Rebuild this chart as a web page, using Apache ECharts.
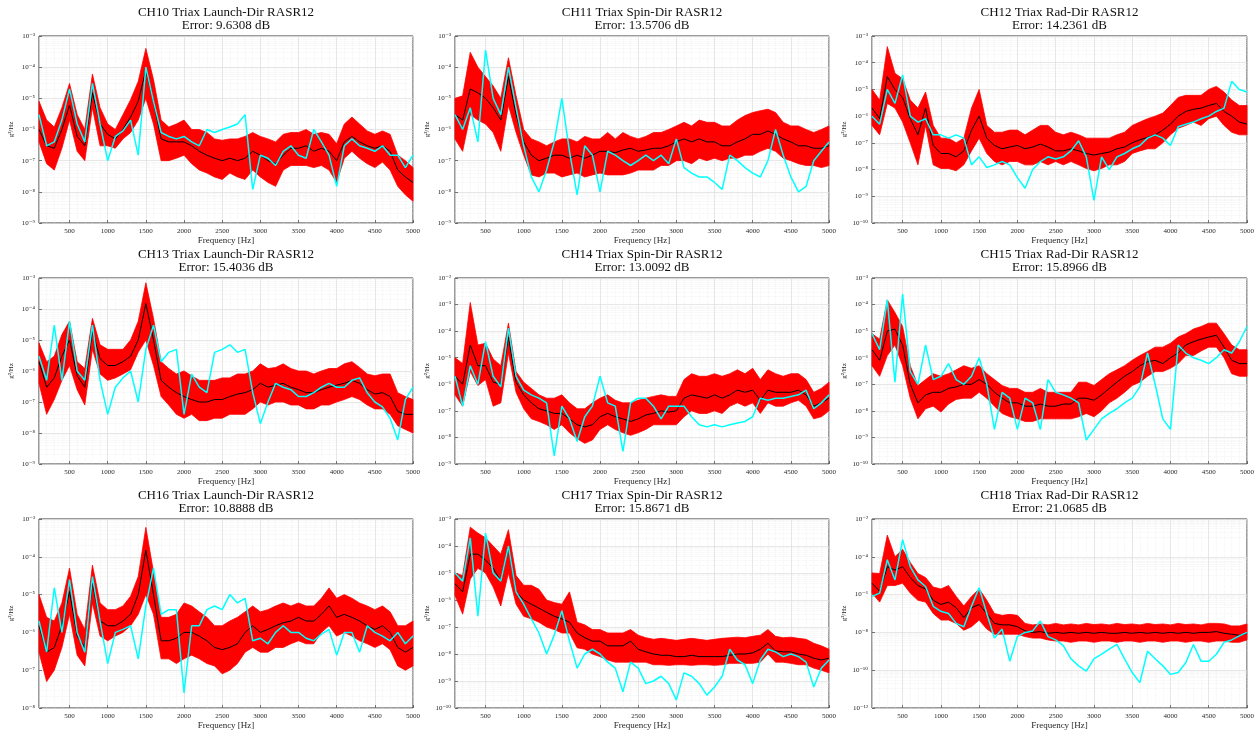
<!DOCTYPE html>
<html>
<head>
<meta charset="utf-8">
<script src="https://cdn.jsdelivr.net/npm/echarts@6/dist/echarts.min.js"></script>
<style>
  html, body { margin: 0; background: #fff; }
  #chart { width: 1258px; height: 738px; }
</style>
</head>
<body>
<div id="chart"></div>
<script>
// frequency grid [Hz]
const freq = [100, 200, 300, 400, 500, 600, 700, 800, 900, 1000,
  1100, 1200, 1300, 1400, 1500, 1600, 1700, 1800, 1900, 2000,
  2100, 2200, 2300, 2400, 2500, 2600, 2700, 2800, 2900, 3000,
  3100, 3200, 3300, 3400, 3500, 3600, 3700, 3800, 3900, 4000,
  4100, 4200, 4300, 4400, 4500, 4600, 4700, 4800, 4900, 5000]

// PSD values g^2/Hz : red band upper / lower, black mean, cyan model
const ch10Hi = [8e-6, 2e-6, 1.2e-6, 5e-6, 3e-5, 3e-6, 1e-6, 6e-5, 5e-6, 1.5e-6,
  1e-6, 3e-6, 9e-6, 3.5e-5, 4e-4, 4e-5, 2e-6, 1.2e-6, 1.5e-6, 2e-6,
  1e-6, 1e-6, 8e-7, 5e-7, 4.5e-7, 5e-7, 5e-7, 6e-7, 8e-7, 6e-7,
  5e-7, 4e-7, 7e-7, 8e-7, 8e-7, 1e-6, 7e-7, 8e-7, 7e-7, 3.5e-7,
  1.5e-6, 2.5e-6, 1.5e-6, 9e-7, 7e-7, 9e-7, 7e-7, 1.5e-7, 1e-7, 6e-8]
const ch10Lo = [4e-7, 8e-8, 5e-8, 2.5e-7, 2e-6, 2e-7, 1e-7, 5e-6, 3e-7, 3e-7,
  2.5e-7, 5e-7, 8e-7, 2e-6, 1e-5, 1.5e-6, 1e-7, 1e-7, 1.2e-7, 1.5e-7,
  8e-8, 5e-8, 4e-8, 3e-8, 2.5e-8, 4e-8, 3e-8, 2.5e-8, 5e-8, 3e-8,
  2e-8, 1.5e-8, 5e-8, 7e-8, 7e-8, 7e-8, 6e-8, 7e-8, 5e-8, 2e-8,
  1.2e-7, 2e-7, 1.2e-7, 8e-8, 6e-8, 9e-8, 5e-8, 1.5e-8, 8e-9, 5e-9]
const ch10Mean = [1e-6, 3e-7, 2.5e-7, 1e-6, 6e-6, 6e-7, 3e-7, 1.5e-5, 1.5e-6, 7e-7,
  5e-7, 1e-6, 2.5e-6, 8e-6, 8e-5, 8e-6, 5e-7, 4e-7, 4e-7, 4e-7,
  3e-7, 2e-7, 1.5e-7, 1.2e-7, 1e-7, 1.2e-7, 1e-7, 1.2e-7, 2e-7, 1.5e-7,
  1e-7, 8e-8, 1.5e-7, 2.5e-7, 2.5e-7, 3e-7, 2e-7, 2.5e-7, 2e-7, 1e-7,
  4e-7, 6e-7, 4e-7, 3e-7, 2.5e-7, 3e-7, 2e-7, 5e-8, 3e-8, 2e-8]
const ch10Model = [3e-6, 3e-7, 4e-7, 2e-6, 2e-5, 1.5e-6, 4e-7, 3e-5, 1.5e-6, 1e-7,
  6e-7, 9e-7, 2e-6, 1.5e-7, 1e-4, 8e-6, 8e-7, 6e-7, 5e-7, 6e-7,
  4e-7, 3e-7, 1e-6, 8e-7, 1e-6, 1.2e-6, 1.5e-6, 3e-6, 1.2e-8, 1.5e-7,
  1.2e-7, 7e-8, 2e-7, 3e-7, 1.5e-7, 1.2e-7, 1e-6, 4e-7, 1.5e-7, 1.5e-8,
  3e-7, 5e-7, 3e-7, 2.5e-7, 2e-7, 3e-7, 1.5e-7, 1.5e-7, 6e-8, 1.5e-7]

const ch11Hi = [1e-5, 1.2e-5, 3e-4, 1e-4, 5e-5, 2.5e-5, 1e-5, 2e-4, 1.2e-5, 1e-6,
  5e-7, 4e-7, 3e-7, 4e-7, 5e-7, 5e-7, 4e-7, 6e-7, 5e-7, 5e-7,
  8e-7, 5e-7, 8e-7, 6e-7, 5e-7, 6e-7, 8e-7, 8e-7, 1e-6, 1.3e-6,
  1.7e-6, 1.3e-6, 2e-6, 1.7e-6, 1.7e-6, 1.3e-6, 1.3e-6, 2e-6, 2.8e-6, 3.5e-6,
  4e-6, 4.5e-6, 3.5e-6, 1.7e-6, 1.3e-6, 1.3e-6, 1e-6, 8e-7, 1e-6, 1.3e-6]
const ch11Lo = [5e-7, 2e-7, 3e-6, 2e-6, 1.5e-6, 8e-7, 2e-7, 6e-6, 8e-7, 1.5e-7,
  3.5e-8, 3e-8, 4e-8, 4e-8, 3e-8, 3.5e-8, 4e-8, 3e-8, 3.5e-8, 4e-8,
  3.5e-8, 3.5e-8, 3.5e-8, 4e-8, 5e-8, 5e-8, 5e-8, 7e-8, 7e-8, 1e-7,
  1e-7, 8e-8, 1.2e-7, 1e-7, 1.2e-7, 1e-7, 1.2e-7, 1.2e-7, 1.5e-7, 1.5e-7,
  2e-7, 2.5e-7, 2e-7, 1.2e-7, 1e-7, 8e-8, 7e-8, 7e-8, 6e-8, 7e-8]
const ch11Mean = [3e-6, 2e-6, 2e-5, 1.5e-5, 1e-5, 5e-6, 2e-6, 5e-5, 3e-6, 4e-7,
  1.5e-7, 1e-7, 1.2e-7, 1.5e-7, 1.5e-7, 1.2e-7, 1.5e-7, 1.2e-7, 1.5e-7, 2e-7,
  2e-7, 1.8e-7, 2.2e-7, 2.5e-7, 2e-7, 2.2e-7, 2.5e-7, 2.5e-7, 3e-7, 4e-7,
  5e-7, 4e-7, 5e-7, 4e-7, 4e-7, 3e-7, 3e-7, 4e-7, 5e-7, 7e-7,
  7e-7, 9e-7, 7e-7, 5e-7, 4e-7, 3e-7, 3e-7, 2.5e-7, 2.5e-7, 3e-7]
const ch11Model = [3e-6, 1e-6, 5e-6, 4e-7, 3.5e-4, 1e-5, 3e-6, 1e-4, 5e-6, 3e-7,
  3e-8, 1e-8, 5e-8, 4e-7, 1e-5, 2e-7, 8e-9, 3e-7, 1.5e-7, 1e-8,
  2e-7, 1.5e-7, 1e-7, 7e-8, 1e-7, 1.5e-7, 1e-7, 1.5e-7, 8e-8, 5e-7,
  6e-8, 4e-8, 3e-8, 3e-8, 2e-8, 1.2e-8, 1.5e-7, 1e-7, 6e-8, 4e-8,
  3e-8, 1e-7, 1e-6, 1.5e-7, 3e-8, 1e-8, 1.5e-8, 1e-7, 2e-7, 4e-7]

const ch12Hi = [1e-5, 4e-6, 4e-4, 4e-5, 2.5e-5, 4e-6, 2e-6, 8e-6, 4.5e-7, 1.5e-7,
  1.5e-7, 1e-7, 1.5e-7, 2e-6, 1e-5, 4.5e-7, 2.5e-7, 2.5e-7, 3e-7, 3e-7,
  2e-7, 3e-7, 4.5e-7, 4.5e-7, 2.5e-7, 2e-7, 2.5e-7, 2e-7, 1.5e-7, 1.5e-7,
  1.5e-7, 1.5e-7, 2e-7, 2.5e-7, 4.5e-7, 6e-7, 8e-7, 1e-6, 1.3e-6, 2.5e-6,
  5e-6, 6e-6, 6e-6, 6e-6, 1e-5, 1.3e-5, 8e-6, 4e-6, 2.5e-6, 2.5e-6]
const ch12Lo = [4.5e-7, 2e-7, 3e-6, 2e-6, 6e-7, 1e-7, 1.5e-8, 4.5e-7, 1.5e-8, 1.1e-8,
  1.1e-8, 9e-9, 1.5e-8, 5e-8, 1.5e-7, 4e-8, 2e-8, 1.5e-8, 2e-8, 2e-8,
  1.5e-8, 1.5e-8, 2e-8, 1.5e-8, 2e-8, 1.5e-8, 2e-8, 1.5e-8, 1.1e-8, 9e-9,
  1.1e-8, 1.5e-8, 1.5e-8, 2e-8, 4e-8, 5e-8, 6e-8, 6e-8, 1e-7, 2e-7,
  3.5e-7, 4.5e-7, 6e-7, 4.5e-7, 8e-7, 1e-6, 4.5e-7, 2.5e-7, 2e-7, 2e-7]
const ch12Mean = [2e-6, 8e-7, 3e-5, 1e-5, 5e-6, 8e-7, 2e-7, 2e-6, 8e-8, 4e-8,
  4e-8, 3e-8, 5e-8, 3e-7, 1e-6, 1.5e-7, 8e-8, 6e-8, 7e-8, 8e-8,
  6e-8, 7e-8, 9e-8, 7e-8, 5e-8, 5e-8, 6e-8, 5e-8, 4e-8, 3.5e-8,
  4e-8, 4.5e-8, 6e-8, 7e-8, 1e-7, 1.3e-7, 1.6e-7, 2e-7, 3e-7, 5e-7,
  1e-6, 1.5e-6, 1.8e-6, 2e-6, 2.5e-6, 3e-6, 1.5e-6, 1e-6, 6e-7, 5e-7]
const ch12Model = [1e-6, 5e-7, 1e-5, 3e-6, 3.5e-5, 1e-6, 6e-7, 8e-7, 2e-7, 2e-7,
  1.5e-7, 2e-7, 1.5e-7, 1.5e-8, 3e-8, 1.2e-8, 1.5e-8, 2e-8, 1.5e-8, 5e-9,
  2e-9, 1e-8, 2e-8, 3e-8, 2.5e-8, 3e-8, 5e-8, 1.2e-7, 3e-8, 7e-10,
  3e-8, 1e-8, 3e-8, 4e-8, 6e-8, 8e-8, 1.5e-7, 2e-7, 1.5e-7, 8e-8,
  4e-7, 5e-7, 6e-7, 8e-7, 1e-6, 1.5e-6, 2e-6, 2e-5, 1e-5, 8e-6]

const ch13Hi = [8e-6, 2e-6, 3e-6, 1.5e-5, 4e-5, 2e-6, 1.2e-6, 5e-5, 7e-6, 5e-6,
  5e-6, 5e-6, 1e-5, 4e-5, 7e-4, 5e-5, 2e-6, 1.2e-6, 8e-7, 1e-6,
  7e-7, 5e-7, 5e-7, 5e-7, 6e-7, 6e-7, 8e-7, 8e-7, 1e-6, 1.7e-6,
  1.2e-6, 1.3e-6, 1.7e-6, 1.2e-6, 1e-6, 1e-6, 8e-7, 1e-6, 1.2e-6, 1.2e-6,
  1.7e-6, 2e-6, 1.3e-6, 8e-7, 7e-7, 8e-7, 8e-7, 2e-7, 1.5e-7, 1.2e-7]
const ch13Lo = [4e-7, 4e-8, 1.2e-7, 5e-7, 1.5e-6, 2.5e-7, 8e-8, 5e-6, 8e-7, 5e-7,
  6e-7, 8e-7, 1.1e-6, 4e-6, 1e-5, 1.5e-6, 1.5e-7, 8e-8, 4e-8, 3e-8,
  4e-8, 2.5e-8, 2.5e-8, 3e-8, 3e-8, 4e-8, 4e-8, 4e-8, 6e-8, 1e-7,
  8e-8, 1e-7, 1e-7, 8e-8, 8e-8, 6e-8, 6e-8, 8e-8, 8e-8, 1e-7,
  1.2e-7, 1.5e-7, 1.2e-7, 8e-8, 6e-8, 6e-8, 4e-8, 1.7e-8, 1.3e-8, 1e-8]
const ch13Mean = [2e-6, 3e-7, 6e-7, 3e-6, 1e-5, 7e-7, 3e-7, 2e-5, 2.5e-6, 1.5e-6,
  1.5e-6, 2e-6, 3e-6, 1e-5, 1.5e-4, 1e-5, 5e-7, 3e-7, 2e-7, 1.5e-7,
  1.2e-7, 1e-7, 1e-7, 1.2e-7, 1.2e-7, 1.5e-7, 1.8e-7, 2e-7, 2.5e-7, 4e-7,
  3e-7, 3.5e-7, 4e-7, 3e-7, 2.5e-7, 2e-7, 2e-7, 2.5e-7, 3e-7, 3.5e-7,
  4e-7, 5e-7, 4e-7, 2.5e-7, 1.8e-7, 2e-7, 1.5e-7, 5e-8, 4e-8, 4e-8]
const ch13Model = [3e-6, 5e-7, 3e-5, 5e-7, 4e-5, 1e-6, 5e-7, 3e-5, 5e-7, 4e-8,
  3e-7, 6e-7, 1e-6, 1e-7, 5e-6, 3e-5, 2e-6, 4e-6, 5e-6, 4e-8,
  8e-7, 3e-7, 2e-7, 4e-6, 5e-6, 7e-6, 4e-6, 5e-6, 2e-7, 2e-8,
  1e-7, 4e-7, 3e-7, 2.5e-7, 1.5e-7, 1.5e-7, 2e-7, 3e-7, 4e-7, 3e-7,
  3e-7, 5e-7, 6e-7, 2e-7, 1e-7, 7e-8, 3e-8, 6e-9, 1.2e-7, 3e-7]

const ch14Hi = [1e-5, 6e-6, 1.2e-3, 3e-5, 3.5e-5, 9e-6, 5e-6, 2e-4, 3e-6, 1.2e-6,
  7e-7, 4e-7, 3e-7, 3e-7, 4e-7, 2e-7, 1.2e-7, 1.2e-7, 2e-7, 3e-7,
  4e-7, 2.5e-7, 2e-7, 2e-7, 2.5e-7, 3e-7, 3.5e-7, 4e-7, 3.5e-7, 3.5e-7,
  1.5e-6, 2.5e-6, 2e-6, 2e-6, 2.5e-6, 2e-6, 2.5e-6, 3.5e-6, 2.5e-6, 4e-6,
  1.5e-6, 3.5e-6, 2.5e-6, 2e-6, 2.5e-6, 2.5e-6, 1.5e-6, 5e-7, 7e-7, 1.2e-6]
const ch14Lo = [4e-7, 1.5e-7, 3e-6, 9e-7, 1.5e-6, 1.5e-7, 2e-7, 1.5e-5, 5e-7, 1.2e-7,
  5e-8, 4e-8, 3e-8, 2e-8, 3e-8, 1.5e-8, 9e-9, 6e-9, 8e-9, 2e-8,
  3e-8, 2e-8, 1.5e-8, 1.2e-8, 1.5e-8, 2e-8, 3e-8, 3e-8, 3e-8, 3e-8,
  6e-8, 1e-7, 8e-8, 8e-8, 1e-7, 8e-8, 1.5e-7, 2e-7, 1.5e-7, 2e-7,
  8e-8, 2e-7, 1.5e-7, 1.5e-7, 2e-7, 2.5e-7, 1.5e-7, 5e-8, 6e-8, 1e-7]
const ch14Mean = [2e-6, 1e-6, 3e-5, 5e-6, 5e-6, 1.2e-6, 1e-6, 6e-5, 1.2e-6, 4e-7,
  2e-7, 1.2e-7, 1e-7, 8e-8, 8e-8, 5e-8, 3e-8, 2.5e-8, 3e-8, 6e-8,
  8e-8, 6e-8, 5e-8, 4e-8, 5e-8, 7e-8, 8e-8, 1e-7, 9e-8, 1e-7,
  3e-7, 4e-7, 3.5e-7, 3e-7, 4e-7, 3e-7, 4e-7, 6e-7, 5e-7, 6e-7,
  2.5e-7, 6e-7, 5e-7, 5e-7, 5e-7, 6e-7, 4e-7, 1.5e-7, 2e-7, 3e-7]
const ch14Model = [2e-6, 1.5e-7, 5e-6, 1e-6, 4e-5, 2e-6, 8e-7, 1.3e-4, 2e-6, 6e-7,
  4e-7, 3e-7, 2e-7, 2e-9, 1.5e-7, 5e-8, 7e-9, 6e-8, 1.5e-7, 2e-6,
  2e-7, 1.5e-7, 3e-9, 2e-7, 3e-7, 3e-7, 1.5e-7, 5e-8, 1.5e-7, 1.5e-7,
  1.5e-7, 6e-8, 3e-8, 2.5e-8, 3e-8, 2.5e-8, 3e-8, 3.5e-8, 4e-8, 6e-8,
  3e-7, 2.5e-7, 3e-7, 3e-7, 3.5e-7, 4e-7, 6e-7, 1.2e-7, 2e-7, 4e-7]

const ch15Hi = [8e-6, 5e-6, 1.5e-4, 5e-5, 1.5e-5, 5e-7, 9e-8, 1.5e-7, 2.5e-7, 2e-7,
  2.5e-7, 3.5e-7, 5e-7, 4e-7, 5e-7, 2.5e-7, 1.5e-7, 9e-8, 7e-8, 7e-8,
  5e-8, 5e-8, 7e-8, 5e-8, 5e-8, 5e-8, 5e-8, 1.2e-7, 1.2e-7, 9e-8,
  1.5e-7, 2.5e-7, 3.5e-7, 5e-7, 8e-7, 1.2e-6, 1.7e-6, 2.5e-6, 2.5e-6, 3.5e-6,
  6e-6, 8e-6, 1.2e-5, 1.5e-5, 2e-5, 2e-5, 8e-6, 3e-6, 2e-6, 2e-6]
const ch15Lo = [5e-7, 2e-7, 1.2e-6, 3e-6, 5e-7, 3e-8, 5e-9, 1.2e-8, 1.5e-8, 9e-9,
  1.8e-8, 2.7e-8, 3e-8, 3e-8, 5e-8, 3e-8, 1.5e-8, 8e-9, 6e-9, 5e-9,
  4e-9, 4e-9, 5e-9, 5e-9, 5e-9, 5e-9, 5e-9, 6e-9, 8e-9, 6e-9,
  1e-8, 2e-8, 3e-8, 5e-8, 9e-8, 1.2e-7, 2e-7, 3e-7, 3e-7, 4e-7,
  6e-7, 1.2e-6, 1.2e-6, 1.8e-6, 2.5e-6, 2.5e-6, 1e-6, 2.5e-7, 2e-7, 2e-7]
const ch15Mean = [2e-6, 8e-7, 1e-5, 1.2e-5, 3e-6, 1e-7, 2e-8, 4e-8, 5e-8, 5e-8,
  7e-8, 8e-8, 1e-7, 1e-7, 1.5e-7, 1e-7, 5e-8, 3e-8, 2e-8, 2e-8,
  1.5e-8, 1.5e-8, 1.8e-8, 1.5e-8, 1.5e-8, 1.8e-8, 1.8e-8, 3e-8, 3e-8, 2.5e-8,
  4e-8, 7e-8, 1.2e-7, 2e-7, 3e-7, 5e-7, 7e-7, 8e-7, 6e-7, 1e-6,
  1.5e-6, 3e-6, 4e-6, 5e-6, 6e-6, 7e-6, 2.5e-6, 8e-7, 6e-7, 6e-7]
const ch15Model = [8e-6, 2e-6, 1.5e-4, 1.2e-7, 2.5e-4, 3e-7, 1e-7, 3e-6, 1.5e-7, 2e-7,
  6e-7, 1.5e-7, 1e-7, 2e-7, 1e-6, 1e-7, 2e-9, 5e-8, 3e-8, 2e-9,
  3e-8, 2e-8, 2e-9, 1.5e-7, 5e-8, 4e-8, 3e-8, 2e-8, 8e-10, 2e-9,
  5e-9, 8e-9, 1.2e-8, 2e-8, 3e-8, 8e-8, 1.5e-6, 1e-7, 5e-9, 2e-9,
  3e-6, 1.5e-6, 1e-6, 8e-7, 6e-7, 1e-6, 2e-6, 1.5e-6, 4e-6, 1.5e-5]

const ch16Hi = [1e-5, 2.5e-6, 2e-6, 6e-6, 5e-5, 3e-6, 1.2e-6, 6e-5, 6e-6, 4e-6,
  4e-6, 5e-6, 9e-6, 3e-5, 6e-4, 4e-5, 2.5e-6, 2.5e-6, 3e-6, 6e-6,
  5e-6, 3.5e-6, 2.5e-6, 1.5e-6, 1.5e-6, 2e-6, 2.5e-6, 3.5e-6, 5e-6, 3.5e-6,
  4e-6, 5e-6, 6e-6, 5e-6, 6e-6, 5e-6, 5e-6, 8e-6, 1.5e-5, 8e-6,
  1e-5, 8e-6, 6e-6, 5e-6, 4e-6, 5e-6, 3.5e-6, 1.5e-6, 1.5e-6, 2e-6]
const ch16Lo = [3e-7, 5e-8, 1e-7, 4e-7, 3e-6, 2.5e-7, 1.3e-7, 6e-6, 8e-7, 6e-7,
  8e-7, 1e-6, 1.5e-6, 3e-6, 1e-5, 3e-6, 2e-7, 2e-7, 1.5e-7, 2e-7,
  2.5e-7, 2e-7, 1.5e-7, 1.3e-7, 8e-8, 1e-7, 1.5e-7, 3e-7, 4e-7, 3e-7,
  3e-7, 4e-7, 4e-7, 5e-7, 6e-7, 5e-7, 5e-7, 1e-6, 1.5e-6, 8e-7,
  1e-6, 8e-7, 6e-7, 5e-7, 4e-7, 5e-7, 3.5e-7, 1.3e-7, 1e-7, 1.3e-7]
const ch16Mean = [1.5e-6, 3e-7, 4e-7, 1.5e-6, 1.2e-5, 8e-7, 4e-7, 2e-5, 2e-6, 1.5e-6,
  1.5e-6, 2e-6, 3e-6, 1e-5, 1.5e-4, 1e-5, 6e-7, 6e-7, 7e-7, 1e-6,
  1e-6, 8e-7, 6e-7, 4e-7, 3.5e-7, 4e-7, 5e-7, 1e-6, 1.5e-6, 1e-6,
  1.2e-6, 1.5e-6, 1.8e-6, 2e-6, 2.5e-6, 2e-6, 2e-6, 3e-6, 5e-6, 2.5e-6,
  3e-6, 2.5e-6, 2e-6, 1.5e-6, 1.2e-6, 1.5e-6, 1e-6, 4e-7, 3e-7, 4e-7]
const ch16Model = [2e-6, 3e-7, 1.5e-5, 1e-6, 2.5e-5, 1e-6, 3e-7, 3e-5, 2e-6, 1.5e-7,
  1e-6, 1.2e-6, 1.5e-6, 2e-7, 5e-6, 5e-5, 3e-6, 4e-6, 4e-6, 2.5e-8,
  1.5e-6, 1.5e-6, 4e-6, 5e-6, 4e-6, 1e-5, 6e-6, 8e-6, 6e-7, 7e-7,
  5e-7, 1e-6, 1.5e-6, 1e-6, 1e-6, 7e-7, 6e-7, 9e-7, 1.2e-6, 2.5e-7,
  1e-6, 1e-6, 3e-7, 1.5e-6, 1e-6, 8e-7, 6e-7, 1e-6, 5e-7, 8e-7]

const ch17Hi = [1e-5, 8e-6, 5e-4, 3e-4, 2e-4, 1e-4, 5e-5, 4e-4, 8e-6, 3.5e-6,
  3.5e-6, 2.5e-6, 1e-6, 8e-7, 7e-7, 2e-6, 1.5e-7, 1.2e-7, 8e-8, 8e-8,
  6e-8, 6e-8, 6e-8, 8e-8, 5e-8, 4e-8, 3.5e-8, 3.8e-8, 3.5e-8, 3.2e-8,
  3.5e-8, 3.8e-8, 3.5e-8, 3.2e-8, 3.5e-8, 3.8e-8, 4e-8, 4.2e-8, 4e-8, 4.5e-8,
  5e-8, 8e-8, 4.5e-8, 4e-8, 4.2e-8, 3.8e-8, 3.5e-8, 2.5e-8, 2e-8, 1.5e-8]
const ch17Lo = [1.5e-6, 3e-7, 6e-6, 1.5e-5, 1e-5, 3e-6, 6e-7, 1e-5, 7e-7, 2.5e-7,
  2e-7, 1.5e-7, 1e-7, 8e-8, 6e-8, 6e-8, 1.7e-8, 1.5e-8, 1e-8, 8e-9,
  6e-9, 5e-9, 5e-9, 5e-9, 5e-9, 5e-9, 4e-9, 4e-9, 3.8e-9, 4e-9,
  4e-9, 3.8e-9, 4e-9, 4e-9, 3.8e-9, 4e-9, 4.5e-9, 4.5e-9, 4.5e-9, 4.5e-9,
  5e-9, 1e-8, 5e-9, 5e-9, 4.5e-9, 4e-9, 4e-9, 3e-9, 2.5e-9, 2e-9]
const ch17Mean = [4e-6, 2e-6, 5e-5, 5e-5, 3e-5, 1.5e-5, 5e-6, 1e-4, 2e-6, 1e-6,
  7e-7, 5e-7, 3.5e-7, 2.5e-7, 2e-7, 1.5e-7, 6e-8, 4e-8, 3e-8, 3e-8,
  2e-8, 2e-8, 2e-8, 3e-8, 1.5e-8, 1.2e-8, 1e-8, 9e-9, 9e-9, 8e-9,
  8e-9, 9e-9, 8e-9, 8e-9, 8e-9, 8e-9, 9e-9, 1e-8, 1e-8, 1.1e-8,
  1.5e-8, 2.5e-8, 1.3e-8, 1.2e-8, 1.2e-8, 1e-8, 9e-9, 7e-9, 6e-9, 7e-9]
const ch17Model = [1e-5, 5e-6, 2e-4, 2.5e-7, 3e-4, 1e-5, 5e-6, 1e-4, 2e-6, 7e-7,
  2e-7, 6e-8, 1e-8, 5e-8, 4e-7, 3e-8, 3e-9, 1e-8, 1.5e-8, 1e-8,
  5e-9, 3e-9, 4e-10, 5e-9, 3e-9, 8e-10, 1e-9, 1.5e-9, 8e-10, 2e-10,
  2e-9, 1.5e-9, 8e-10, 3e-10, 6e-10, 1.5e-9, 1.5e-8, 6e-9, 4e-9, 8e-10,
  6e-9, 1.5e-8, 1.2e-8, 8e-9, 1e-8, 8e-9, 5e-9, 6e-10, 3e-9, 6e-9]

const ch18Hi = [1.4e-5, 1.3e-5, 1.4e-3, 1e-4, 2.5e-4, 5e-5, 1.3e-5, 8e-6, 2.5e-6, 2e-6,
  3e-6, 8e-7, 2.5e-7, 8e-7, 2e-6, 5e-7, 1e-7, 8e-8, 9e-8, 8e-8,
  3e-8, 2.5e-8, 2.8e-8, 2.5e-8, 3e-8, 2.5e-8, 2.8e-8, 2.5e-8, 3e-8, 2.6e-8,
  2.8e-8, 2.5e-8, 3e-8, 2.6e-8, 2.8e-8, 2.5e-8, 3e-8, 2.6e-8, 2.8e-8, 2.5e-8,
  3e-8, 2.6e-8, 2.8e-8, 2.5e-8, 3e-8, 3e-8, 2.8e-8, 2.2e-8, 2.2e-8, 2.8e-8]
const ch18Lo = [1.2e-6, 4e-7, 3e-6, 3e-6, 4e-6, 1.2e-6, 5e-7, 4e-7, 1e-7, 4.5e-8,
  4.5e-8, 3e-8, 1.3e-8, 2e-8, 4.5e-8, 1.5e-8, 8e-9, 8e-9, 8e-9, 8e-9,
  6e-9, 5e-9, 5e-9, 4e-9, 3.5e-9, 3.5e-9, 3e-9, 3.5e-9, 3.5e-9, 3e-9,
  3.5e-9, 3.5e-9, 3e-9, 3.5e-9, 3.5e-9, 3e-9, 3.5e-9, 3.5e-9, 3e-9, 3.5e-9,
  3.5e-9, 3e-9, 3.5e-9, 3.5e-9, 3e-9, 3.5e-9, 3.5e-9, 3e-9, 3e-9, 4e-9]
const ch18Mean = [4e-6, 1.5e-6, 3e-5, 2e-5, 3e-5, 8e-6, 3e-6, 2e-6, 5e-7, 3e-7,
  4e-7, 2e-7, 6e-8, 2e-7, 3e-7, 1e-7, 3e-8, 2.5e-8, 2.5e-8, 2e-8,
  1.2e-8, 1e-8, 1.1e-8, 9e-9, 1e-8, 9e-9, 1e-8, 9e-9, 1e-8, 9e-9,
  1e-8, 9e-9, 9e-9, 1e-8, 9e-9, 1e-8, 9e-9, 1e-8, 9e-9, 1e-8,
  9e-9, 1e-8, 9e-9, 1e-8, 1e-8, 1.1e-8, 9e-9, 8e-9, 7e-9, 9e-9]
const ch18Model = [8e-7, 1.2e-6, 7e-5, 6e-6, 8e-4, 3e-5, 6e-6, 2.7e-6, 2.4e-7, 1.3e-7,
  1e-7, 3e-8, 2e-8, 2.4e-7, 2.3e-6, 1e-7, 5e-9, 1.5e-8, 3e-10, 6e-9,
  1e-8, 1.2e-8, 4e-8, 6e-9, 4e-9, 2e-9, 4e-10, 1.7e-10, 9e-11, 4e-10,
  7e-10, 1.3e-9, 2.3e-9, 4e-10, 7.5e-11, 2.2e-11, 1e-9, 4e-10, 1.7e-10, 6e-11,
  7.5e-11, 2.5e-10, 2.3e-9, 3e-10, 3e-10, 7e-10, 3e-9, 4e-9, 6.5e-9, 1e-8]

const titles = ['CH10 Triax Launch-Dir RASR12', 'CH11 Triax Spin-Dir RASR12', 'CH12 Triax Rad-Dir RASR12',
  'CH13 Triax Launch-Dir RASR12', 'CH14 Triax Spin-Dir RASR12', 'CH15 Triax Rad-Dir RASR12',
  'CH16 Triax Launch-Dir RASR12', 'CH17 Triax Spin-Dir RASR12', 'CH18 Triax Rad-Dir RASR12']
const errors = ['9.6308', '13.5706', '14.2361', '15.4036', '13.0092', '15.8966', '10.8888', '15.8671', '21.0685']
// y axis range, decades
const yMinExp = [-9, -9, -10, -9, -9, -10, -8, -10, -12]
const yMaxExp = [-3, -3, -3, -3, -2, -3, -3, -3, -2]

const bands = [
  [ch10Hi, ch10Lo, ch10Mean, ch10Model], [ch11Hi, ch11Lo, ch11Mean, ch11Model], [ch12Hi, ch12Lo, ch12Mean, ch12Model],
  [ch13Hi, ch13Lo, ch13Mean, ch13Model], [ch14Hi, ch14Lo, ch14Mean, ch14Model], [ch15Hi, ch15Lo, ch15Mean, ch15Model],
  [ch16Hi, ch16Lo, ch16Mean, ch16Model], [ch17Hi, ch17Lo, ch17Mean, ch17Model], [ch18Hi, ch18Lo, ch18Mean, ch18Model]
]

// layout (px)
const colLeft = [39, 455, 872]
const colWidth = [374, 374, 375]
const rowTop = [36, 278, 519]
const rowHeight = [187, 186, 189]

const FONT = '"Liberation Serif", "DejaVu Serif", serif'
const RED = '#ff0000'
const CYAN = '#00ffff'
const SUP = { '-': '\u207B', '0': '\u2070', '1': '\u00B9', '2': '\u00B2', '3': '\u00B3', '4': '\u2074', '5': '\u2075', '6': '\u2076', '7': '\u2077', '8': '\u2078', '9': '\u2079' }

function powLabel (v) {
  const e = String(Math.round(Math.log10(v)))
  return '10' + e.split('').map(c => SUP[c]).join('')
}

const chart = echarts.init(document.getElementById('chart'))
const grid = []
const xAxis = []
const yAxis = []
const title = []
const series = []

titles.forEach((t, i) => {
  const col = i % 3
  const row = Math.floor(i / 3)
  const [hi, lo, mean, model] = bands[i]
  grid.push({
    left: colLeft[col], top: rowTop[row], width: colWidth[col], height: rowHeight[row],
    show: true, borderColor: '#000', borderWidth: 0.8, backgroundColor: '#fff'
  })
  title.push({
    text: t + '\nError: ' + errors[i] + ' dB',
    left: colLeft[col] + colWidth[col] / 2,
    top: rowTop[row] - 30,
    textAlign: 'center',
    padding: 0,
    textStyle: { fontFamily: FONT, fontSize: 13, fontWeight: 'normal', color: '#111', lineHeight: 13 }
  })
  xAxis.push({
    gridIndex: i, type: 'value', min: 100, max: 5000, splitNumber: 10,
    name: 'Frequency [Hz]', nameLocation: 'middle', nameGap: 13,
    nameTextStyle: { fontFamily: FONT, fontSize: 9, color: '#262626' },
    axisLine: { show: false },
    axisTick: { inside: true, length: 3, lineStyle: { color: '#262626', width: 0.6 } },
    axisLabel: { showMinLabel: false, margin: 5, fontFamily: FONT, fontSize: 7, color: '#262626', formatter: v => String(v) },
    splitLine: { show: true, lineStyle: { color: '#dcdcdc', width: 0.7 } },
    minorTick: { show: false, splitNumber: 5 },
    minorSplitLine: { show: true, lineStyle: { color: '#ececec', width: 0.6, type: 'dotted' } }
  })
  const twoDecade = yMaxExp[i] - yMinExp[i] > 8
  yAxis.push({
    gridIndex: i, type: 'log', logBase: twoDecade ? 100 : 10,
    min: Math.pow(10, yMinExp[i]), max: Math.pow(10, yMaxExp[i]),
    name: 'g\u00B2/Hz', nameLocation: 'middle', nameGap: 24, nameRotate: 90,
    nameTextStyle: { fontFamily: FONT, fontSize: 7, color: '#262626' },
    axisLine: { show: false },
    axisTick: { inside: true, length: 3, lineStyle: { color: '#262626', width: 0.6 } },
    axisLabel: { margin: 4, fontFamily: FONT, fontSize: 7, color: '#262626', formatter: powLabel },
    splitLine: { show: true, lineStyle: { color: '#dcdcdc', width: 0.7 } },
    minorTick: { show: false, splitNumber: twoDecade ? 10 : 9 },
    minorSplitLine: { show: true, lineStyle: { color: '#ececec', width: 0.6, type: 'dotted' } }
  })
  series.push({
    type: 'custom', xAxisIndex: i, yAxisIndex: i, z: 2, silent: true,
    data: freq.map((f, k) => [f, hi[k], lo[k]]),
    encode: { x: 0, y: [1, 2] },
    renderItem: (params, api) => {
      if (params.dataIndex !== 0) return null
      const upper = freq.map((f, k) => api.coord([f, hi[k]]))
      const lower = freq.map((f, k) => api.coord([f, lo[k]])).reverse()
      return {
        type: 'polygon',
        shape: { points: upper.concat(lower) },
        style: { fill: RED, stroke: RED, lineWidth: 0.8 }
      }
    }
  })
  series.push({
    type: 'line', xAxisIndex: i, yAxisIndex: i, z: 3, silent: true,
    showSymbol: false, data: freq.map((f, k) => [f, mean[k]]),
    lineStyle: { color: '#000', width: 1 }
  })
  series.push({
    type: 'line', xAxisIndex: i, yAxisIndex: i, z: 4, silent: true,
    showSymbol: false, data: freq.map((f, k) => [f, model[k]]),
    lineStyle: { color: CYAN, width: 1.5 }
  })
})

chart.setOption({
  animation: false,
  backgroundColor: '#fff',
  title,
  grid,
  xAxis,
  yAxis,
  series
})
</script>
</body>
</html>
